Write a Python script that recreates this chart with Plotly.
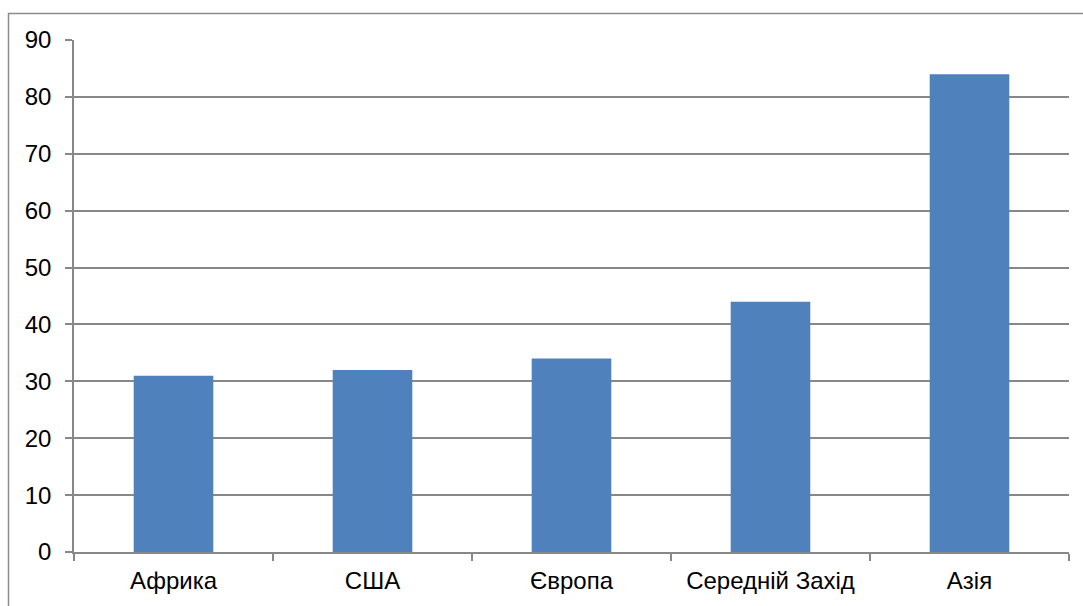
import plotly.graph_objects as go

categories = ["Африка", "США", "Європа", "Середній Захід", "Азія"]
values = [31, 32, 34, 44, 84]
y_ticks = [0, 10, 20, 30, 40, 50, 60, 70, 80, 90]

W, H = 1083, 606
L, R, T, B = 74, 14, 40, 54
pw, ph = W - L - R, H - T - B

def px_to_paper_x(px):
    return (px - L) / pw

def px_to_paper_y(py):
    return (H - B - py) / ph

grid = "#888888"
font = dict(family="Liberation Sans, Arial, sans-serif", size=24, color="#000000")

fig = go.Figure(go.Bar(x=categories, y=values, marker=dict(color="#4F81BD", line=dict(width=0)), width=0.4))

fig.update_layout(
    width=W, height=H,
    margin=dict(l=L, r=R, t=T, b=B),
    paper_bgcolor="white", plot_bgcolor="white",
    font=font, showlegend=False, bargap=0.6,
)
fig.update_xaxes(
    type="category", showgrid=False, showline=True, linecolor=grid, linewidth=1.5,
    ticks="outside", tickson="boundaries", ticklen=7, tickcolor=grid, tickwidth=1.5,
    tickfont=font, ticklabelstandoff=6, range=[-0.5, 4.5],
)
fig.update_yaxes(
    range=[0, 90], tickvals=y_ticks, showgrid=True, gridcolor=grid, gridwidth=1.5,
    showline=True, linecolor=grid, linewidth=1.5, ticks="outside", ticklen=7,
    tickcolor=grid, tickwidth=1.5, tickfont=font, zeroline=False, ticklabelstandoff=9,
)
fig.add_shape(
    type="rect", xref="paper", yref="paper",
    x0=px_to_paper_x(8.5), x1=px_to_paper_x(1100),
    y0=px_to_paper_y(620), y1=px_to_paper_y(13.5),
    line=dict(color="#8c8c8c", width=1.5), fillcolor="rgba(0,0,0,0)", layer="below",
)
fig.write_html("out.html")
